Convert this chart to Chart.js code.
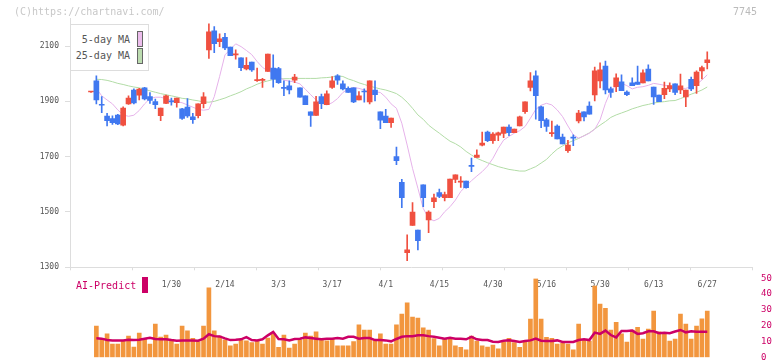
<!DOCTYPE html>
<html>
<head>
<meta charset="utf-8">
<script src="https://cdn.jsdelivr.net/npm/chart.js@4"></script>
<style>
  html, body { margin: 0; padding: 0; width: 772px; height: 361px; overflow: hidden; background: #fff; }
  #wrap { position: relative; width: 772px; height: 361px; overflow: hidden; font-family: 'DejaVu Sans Mono', monospace; }
  canvas { position: absolute; left: 0; top: 0; }
  .t { position: absolute; white-space: nowrap; line-height: 12px; font-size: 10px; }
  #legend { position: absolute; left: 70px; top: 24px; width: 79px; height: 47px; box-sizing: border-box; border: 1px solid #ddd; background: #fff; }
  .sw { position: absolute; width: 6px; height: 16px; box-sizing: border-box; border: 1px solid #666; }
</style>
</head>
<body>
<div id="wrap">
  <canvas id="price" width="772" height="361"></canvas>
  <canvas id="vol" width="772" height="380"></canvas>
  <div class="t" style="left:14px;top:6px;color:#c8c8c8">(C)https://chartnavi.com/</div>
  <div class="t" style="right:15px;top:6px;color:#bbb">7745</div>
  <div id="legend"></div>
  <div class="t" style="right:642px;top:34px;color:#555">5-day MA</div>
  <div class="sw" style="left:137px;top:31px;background:#ecbdec"></div>
  <div class="t" style="right:642px;top:50px;color:#555">25-day MA</div>
  <div class="sw" style="left:137px;top:48px;background:#bcdcb0"></div>
  <div class="t" style="left:76px;top:280px;color:#cc0066">AI-Predict</div>
  <div style="position:absolute;left:142px;top:277px;width:6px;height:16px;background:#cc0066"></div>
</div>
<script>
// daily candles, Jan 8 .. Jun 27 (index 0..115)
const open = [1934,1974,1888,1847,1838,1850,1814,1891,1941,1922,1949,1917,1899,1848,1893,1902,1895,1873,1879,1844,
  1848,1892,2086,2155,2116,2132,2096,2068,2057,2017,2042,1975,1976,2008,2020,2019,1951,1956,1977,1949,
  1920,1862,1849,1917,1888,1950,1992,1963,1947,1949,1905,1937,1898,1941,1862,1847,1823,1700,1607,1353,
  1451,1435,1598,1471,1537,1570,1552,1552,1618,1608,1612,1669,1697,1742,1789,1758,1778,1784,1807,1787,
  1811,1863,1950,1992,1880,1833,1783,1811,1771,1722,1770,1829,1862,1883,1923,1974,2028,1945,1953,1971,
  1934,1967,1970,1967,2017,1952,1923,1924,1945,1963,1941,1916,1980,1957,2010,2040];
const high = [1936,1992,1917,1857,1848,1853,1880,1920,1945,1947,1951,1932,1908,1876,1923,1912,1912,1875,1910,1857,
  1891,1932,2180,2170,2144,2146,2096,2086,2057,2058,2042,2020,1983,2071,2068,2023,1974,1974,1998,1949,
  1920,1862,1918,1926,1938,1990,1997,1974,1953,1949,1935,1945,1974,1974,1862,1871,1840,1735,1618,1417,
  1534,1435,1598,1504,1565,1583,1572,1619,1634,1628,1612,1695,1725,1789,1793,1787,1789,1807,1815,1800,
  1847,1898,2004,2010,1883,1839,1829,1815,1782,1759,1779,1868,1862,1898,2024,2039,2046,1952,2000,1996,
  1938,1985,2028,2014,2032,1952,1923,1970,1967,1963,1999,1941,1988,2010,2028,2079];
const low = [1932,1891,1859,1811,1817,1816,1811,1889,1891,1905,1905,1893,1874,1830,1892,1886,1879,1835,1842,1820,
  1840,1876,2055,2076,2098,2087,2065,2053,2011,2014,2008,1972,1950,2008,1951,1965,1921,1927,1968,1915,
  1888,1809,1849,1874,1888,1947,1961,1941,1932,1895,1905,1897,1891,1902,1801,1823,1806,1671,1516,1324,
  1451,1363,1519,1425,1516,1552,1540,1552,1606,1589,1586,1646,1697,1739,1754,1748,1758,1769,1776,1787,
  1811,1856,1938,1836,1805,1791,1773,1764,1746,1715,1740,1822,1829,1854,1902,1949,1927,1914,1935,1939,
  1921,1957,1961,1967,1974,1889,1899,1910,1935,1924,1928,1881,1939,1929,1981,2017];
const close = [1934,1905,1886,1830,1823,1818,1876,1912,1894,1944,1909,1903,1888,1876,1920,1898,1912,1838,1847,1834,
  1891,1916,2151,2109,2126,2093,2065,2070,2022,2030,2014,1979,1980,2071,1980,1968,1947,1941,1988,1915,
  1888,1849,1898,1892,1927,1974,1977,1945,1932,1898,1920,1934,1974,1924,1832,1823,1840,1686,1552,1363,
  1500,1396,1552,1500,1551,1556,1563,1619,1634,1612,1588,1665,1706,1749,1758,1782,1786,1807,1787,1800,
  1844,1898,1974,1921,1830,1809,1787,1764,1746,1742,1767,1858,1844,1854,2010,2014,1941,1932,1985,1939,
  1924,1957,1961,2003,1974,1916,1899,1947,1957,1932,1956,1941,1945,2006,2022,2050];
const ma5 = [null,1947,1920,1905,1891,1869,1851,1846,1850,1867,1891,1910,1915,1915,1910,1905,1899,1895,1887,1879,
  1871,1868,1871,1917,1990,2068,2088,2108,2098,2084,2069,2044,2023,2010,2002,1990,1977,1973,1970,1963,
  1944,1924,1905,1893,1887,1895,1910,1932,1945,1950,1947,1941,1932,1935,1932,1915,1891,1875,1821,1742,
  1658,1586,1513,1477,1468,1477,1501,1519,1543,1574,1594,1613,1630,1646,1666,1694,1730,1760,1773,1785,
  1794,1809,1839,1871,1886,1893,1887,1869,1845,1811,1779,1767,1775,1785,1799,1833,1893,1939,1957,1965,
  1957,1945,1951,1953,1958,1965,1962,1958,1956,1947,1947,1947,1953,1961,1977,1996];
const ma25 = [null,1980,1979,1976,1971,1965,1961,1956,1952,1949,1944,1938,1933,1928,1924,1920,1916,1911,1909,1905,
  1902,1898,1897,1900,1906,1912,1920,1927,1935,1945,1953,1962,1969,1974,1979,1981,1982,1982,1983,1983,
  1983,1983,1983,1985,1986,1988,1992,1990,1981,1975,1967,1961,1955,1950,1945,1941,1935,1928,1915,1897,
  1875,1851,1835,1814,1799,1785,1770,1756,1747,1735,1719,1706,1694,1686,1678,1671,1664,1659,1654,1651,
  1648,1648,1656,1664,1677,1690,1710,1727,1739,1750,1758,1766,1776,1786,1800,1814,1827,1842,1851,1858,
  1865,1873,1879,1885,1889,1894,1897,1899,1902,1903,1910,1918,1926,1933,1941,1952];
const volume = [null,19.8,12.0,14.8,8.4,8.4,10.5,13.4,6.5,15.4,11.4,8.4,21.1,12.8,14.1,10.5,8.4,19.8,16.7,12.0,
  9.9,19.8,43.9,16.7,13.4,11.0,7.2,8.4,11.0,10.5,9.3,10.5,8.4,12.2,14.8,6.3,14.1,5.9,8.4,11.0,
  15.4,13.4,16.1,11.8,10.5,11.8,7.2,7.2,7.2,9.9,20.5,17.3,17.3,11.0,14.8,8.4,8.4,20.5,27.4,34.4,
  25.5,24.9,18.6,17.3,11.8,7.2,12.0,11.8,7.2,6.3,4.7,13.4,10.3,7.2,6.5,7.8,5.3,9.6,12.0,9.3,
  6.3,10.3,24.2,49.6,24.2,12.6,12.0,8.4,8.8,8.4,4.7,21.1,11.0,10.3,45.1,33.7,31.0,17.3,22.1,14.8,
  9.7,17.3,18.9,11.6,17.9,29.3,16.1,15.4,10.3,11.6,27.4,21.1,11.6,19.8,24.4,29.3];
const aiPredict = [null,12.0,11.8,11.0,10.7,10.7,10.7,11.1,10.9,11.1,11.8,12.4,11.6,11.4,11.4,10.9,10.5,10.7,10.7,10.7,
  10.5,11.8,14.6,13.4,13.2,12.0,10.9,11.1,11.4,12.8,10.9,10.7,11.4,13.9,16.1,11.6,11.4,10.7,11.6,11.8,
  12.6,12.2,11.8,11.4,11.8,11.8,12.2,11.8,13.0,13.0,11.8,12.2,12.2,10.9,10.9,10.7,10.1,11.6,13.0,13.4,
  13.4,13.9,13.9,13.4,13.0,12.4,11.8,12.4,11.8,11.8,11.4,13.0,11.4,10.9,10.9,9.9,9.7,10.5,10.8,10.3,
  9.7,10.3,10.7,11.8,10.5,10.3,10.3,10.7,9.7,9.7,9.7,10.9,11.4,10.9,15.6,14.8,16.9,14.1,12.6,16.7,
  16.7,16.9,14.8,15.2,16.5,16.5,15.2,15.6,15.2,16.3,17.3,15.8,16.5,16.1,16.1,16.1];

// date labels and where they sit (candle index)
const tickIdx = [15, 25, 35, 45, 55, 65, 75, 85, 95, 105, 115];
const tickLabels = ['1/30','2/14','3/3','3/17','4/1','4/15','4/30','5/16','5/30','6/13','6/27'];
const priceTicks = [1300, 1500, 1700, 1900, 2100];
const volTicks = [0, 10, 20, 30, 40, 50];

const X_MIN = -3.92, X_MAX = 123.35;
const FONT = 'DejaVu Sans Mono';
const UP = '#f05040', DOWN = '#4078f0';

const colors = close.map((c, i) => c >= open[i] ? UP : DOWN);
const pts = arr => arr.map((v, i) => ({x: i, y: v})).filter(p => p.y !== null);

new Chart(document.getElementById('price'), {
  type: 'bar',
  data: {
    datasets: [
      {type: 'line', data: pts(ma5), borderColor: '#e6b2ea', borderWidth: 1, pointRadius: 0, tension: 0, order: 3},
      {type: 'line', data: pts(ma25), borderColor: '#b2dca6', borderWidth: 1, pointRadius: 0, tension: 0, order: 3},
      {data: low.map((l, i) => ({x: i, y: [l, high[i]]})), backgroundColor: colors, barThickness: 1, grouped: false, order: 1},
      {data: open.map((o, i) => ({x: i, y: [o, close[i]]})), backgroundColor: colors, barThickness: 5, minBarLength: 1, grouped: false, order: 0}
    ]
  },
  options: {
    responsive: false,
    animation: false,
    layout: {padding: {top: 18.4, right: 20, left: 0, bottom: 0}},
    plugins: {legend: {display: false}, tooltip: {enabled: false}},
    scales: {
      x2: {
        type: 'linear', position: 'bottom', weight: 0, min: X_MIN, max: X_MAX, offset: false,
        afterFit: s => { s.height = 0; },
        afterBuildTicks: s => {
          const t = [];
          for (let k = 0; k <= 11; k++) t.push({value: X_MIN + k * (X_MAX - X_MIN) / 11});
          s.ticks = t;
        },
        ticks: {display: false},
        grid: {drawOnChartArea: false, tickLength: 3, color: '#dddddd', offset: false},
        border: {color: '#dddddd', width: 1}
      },
      x: {
        type: 'linear', position: 'bottom', weight: 1, min: X_MIN, max: X_MAX, offset: false,
        afterFit: s => { s.height = 93.7; },
        afterBuildTicks: s => { s.ticks = tickIdx.map(v => ({value: v})); },
        ticks: {
          callback: v => tickLabels[tickIdx.indexOf(v)],
          font: {family: FONT, size: 8}, color: '#555', padding: 5,
          maxRotation: 0, autoSkip: false
        },
        grid: {display: false, offset: false},
        border: {display: false}
      },
      y: {
        position: 'left', min: 1300, max: 2200,
        afterFit: s => { s.width = 70; },
        afterBuildTicks: s => { s.ticks = priceTicks.map(v => ({value: v})); },
        ticks: {callback: v => String(v), font: {family: FONT, size: 8}, color: '#555', padding: 6},
        grid: {drawOnChartArea: false, tickLength: 5, color: '#dddddd'},
        border: {color: '#dddddd', width: 1}
      }
    }
  }
});

new Chart(document.getElementById('vol'), {
  type: 'bar',
  data: {
    datasets: [
      {type: 'line', data: pts(aiPredict), borderColor: '#cc0066', borderWidth: 2.5, pointRadius: 0, tension: 0, order: 0},
      {data: pts(volume), backgroundColor: '#f2963e', barThickness: 4, grouped: false, order: 1}
    ]
  },
  options: {
    responsive: false,
    animation: false,
    layout: {padding: {top: 278.3, left: 70, right: 0, bottom: 380 - 357.3}},
    plugins: {legend: {display: false}, tooltip: {enabled: false}},
    scales: {
      x: {type: 'linear', min: X_MIN, max: X_MAX, offset: false, display: false},
      y: {
        position: 'right', min: 0, max: 50,
        afterFit: s => { s.width = 20; },
        afterBuildTicks: s => { s.ticks = volTicks.map(v => ({value: v})); },
        ticks: {callback: v => String(v), font: {family: FONT, size: 9}, color: '#cc0066', padding: 1},
        grid: {display: false},
        border: {display: false}
      }
    }
  }
});
</script>
</body>
</html>
